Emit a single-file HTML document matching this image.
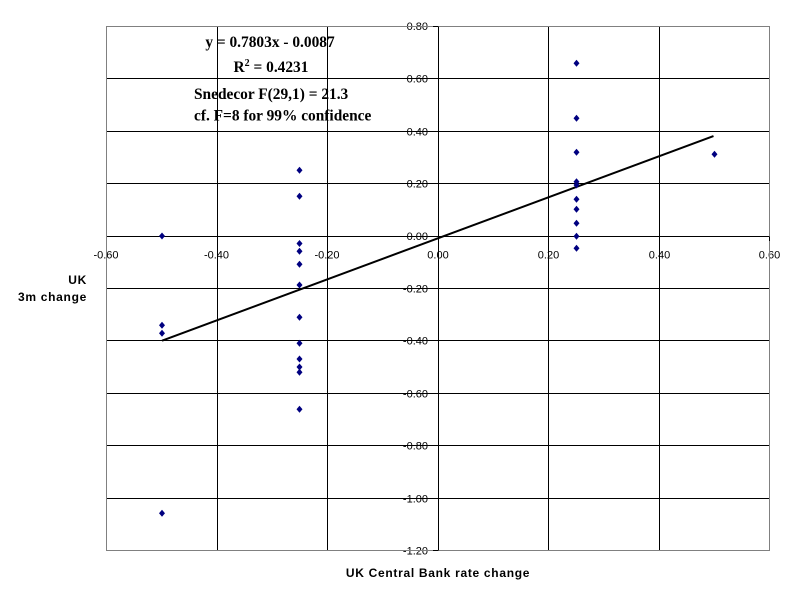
<!DOCTYPE html>
<html>
<head>
<meta charset="utf-8">
<style>
  html, body { margin: 0; padding: 0; background: #fff; }
  svg { display: block; }
  .tick { font-family: "Liberation Sans", Arial, sans-serif; font-size: 11px; fill: #000; }
  .title { font-family: "Liberation Sans", Arial, sans-serif; font-size: 12px; font-weight: bold; fill: #000; letter-spacing: 0.7px; }
  .ann { font-family: "Liberation Serif", "Times New Roman", serif; font-size: 15.4px; font-weight: bold; fill: #000; }
</style>
</head>
<body>
<svg width="800" height="600" viewBox="0 0 800 600" xmlns="http://www.w3.org/2000/svg">
  <rect x="0" y="0" width="800" height="600" fill="#fff"/>

  <!-- Y tick labels -->
  <g class="tick" text-anchor="end">
    <text x="428" y="30">0.80</text>
    <text x="428" y="82.5">0.60</text>
    <text x="428" y="135.5">0.40</text>
    <text x="428" y="187.5">0.20</text>
    <text x="428" y="240">0.00</text>
    <text x="428" y="292.5">-0.20</text>
    <text x="428" y="344.5">-0.40</text>
    <text x="428" y="397.5">-0.60</text>
    <text x="428" y="449.5">-0.80</text>
    <text x="428" y="502.5">-1.00</text>
    <text x="428" y="554.5">-1.20</text>
  </g>

  <!-- X tick labels -->
  <g class="tick" text-anchor="middle">
    <text x="106" y="258.5">-0.60</text>
    <text x="216.5" y="258.5">-0.40</text>
    <text x="327" y="258.5">-0.20</text>
    <text x="438" y="258.5">0.00</text>
    <text x="548.5" y="258.5">0.20</text>
    <text x="659.5" y="258.5">0.40</text>
    <text x="769.5" y="258.5">0.60</text>
  </g>

  <!-- gridlines -->
  <g stroke="#000" stroke-width="1" fill="none">
    <line x1="106.5" y1="78.5" x2="769.5" y2="78.5"/>
    <line x1="106.5" y1="131.5" x2="769.5" y2="131.5"/>
    <line x1="106.5" y1="183.5" x2="769.5" y2="183.5"/>
    <line x1="106.5" y1="236.5" x2="769.5" y2="236.5"/>
    <line x1="106.5" y1="288.5" x2="769.5" y2="288.5"/>
    <line x1="106.5" y1="340.5" x2="769.5" y2="340.5"/>
    <line x1="106.5" y1="393.5" x2="769.5" y2="393.5"/>
    <line x1="106.5" y1="445.5" x2="769.5" y2="445.5"/>
    <line x1="106.5" y1="498.5" x2="769.5" y2="498.5"/>
    <line x1="217.5" y1="26.5" x2="217.5" y2="550.5"/>
    <line x1="327.5" y1="26.5" x2="327.5" y2="550.5"/>
    <line x1="438.5" y1="26.5" x2="438.5" y2="550.5"/>
    <line x1="548.5" y1="26.5" x2="548.5" y2="550.5"/>
    <line x1="659.5" y1="26.5" x2="659.5" y2="550.5"/>
  </g>
  <!-- border -->
  <rect x="106.5" y="26.5" width="663" height="524" fill="none" stroke="#808080" stroke-width="1"/>
  <!-- small tick marks on axes -->
  <g stroke="#000" stroke-width="1">
    <line x1="433" y1="26.5" x2="438.5" y2="26.5"/>
    <line x1="433" y1="550.5" x2="438.5" y2="550.5"/>
    <line x1="769.5" y1="236.5" x2="769.5" y2="241"/>
  </g>

  <!-- trendline -->
  <line x1="162" y1="340.7" x2="713.5" y2="136" stroke="#000" stroke-width="2"/>

  <!-- data markers -->
  <defs>
    <polygon id="d" points="0,-3.5 3,0 0,3.5 -3,0" fill="#000080"/>
  </defs>
  <g>
    <use href="#d" x="162" y="236"/>
    <use href="#d" x="162" y="325.3"/>
    <use href="#d" x="162" y="333.3"/>
    <use href="#d" x="162" y="513.3"/>

    <use href="#d" x="299.5" y="170.3"/>
    <use href="#d" x="299.5" y="196.3"/>
    <use href="#d" x="299.5" y="243.5"/>
    <use href="#d" x="299.5" y="251.3"/>
    <use href="#d" x="299.5" y="264.3"/>
    <use href="#d" x="299.5" y="285"/>
    <use href="#d" x="299.5" y="317.3"/>
    <use href="#d" x="299.5" y="343.3"/>
    <use href="#d" x="299.5" y="359"/>
    <use href="#d" x="299.5" y="367"/>
    <use href="#d" x="299.5" y="372.3"/>
    <use href="#d" x="299.5" y="409.3"/>

    <use href="#d" x="576.5" y="63.3"/>
    <use href="#d" x="576.5" y="118.3"/>
    <use href="#d" x="576.5" y="152.3"/>
    <use href="#d" x="576.5" y="181.7"/>
    <use href="#d" x="576.5" y="185"/>
    <use href="#d" x="576.5" y="199.3"/>
    <use href="#d" x="576.5" y="209.3"/>
    <use href="#d" x="576.5" y="223.3"/>
    <use href="#d" x="576.5" y="236.3"/>
    <use href="#d" x="576.5" y="248.3"/>

    <use href="#d" x="714.5" y="154.3"/>
  </g>

  <!-- annotation -->
  <g class="ann">
    <text x="270" y="47" text-anchor="middle">y = 0.7803x - 0.0087</text>
    <text x="271" y="72" text-anchor="middle">R<tspan font-size="10px" dy="-6">2</tspan><tspan dy="6"> = 0.4231</tspan></text>
    <text x="194" y="99">Snedecor F(29,1) = 21.3</text>
    <text x="194" y="120.5">cf. F=8 for 99% confidence</text>
  </g>

  <!-- axis titles -->
  <g class="title">
    <text x="87" y="284" text-anchor="end">UK</text>
    <text x="87" y="301" text-anchor="end">3m change</text>
    <text x="438" y="577" text-anchor="middle">UK Central Bank rate change</text>
  </g>
</svg>
</body>
</html>
